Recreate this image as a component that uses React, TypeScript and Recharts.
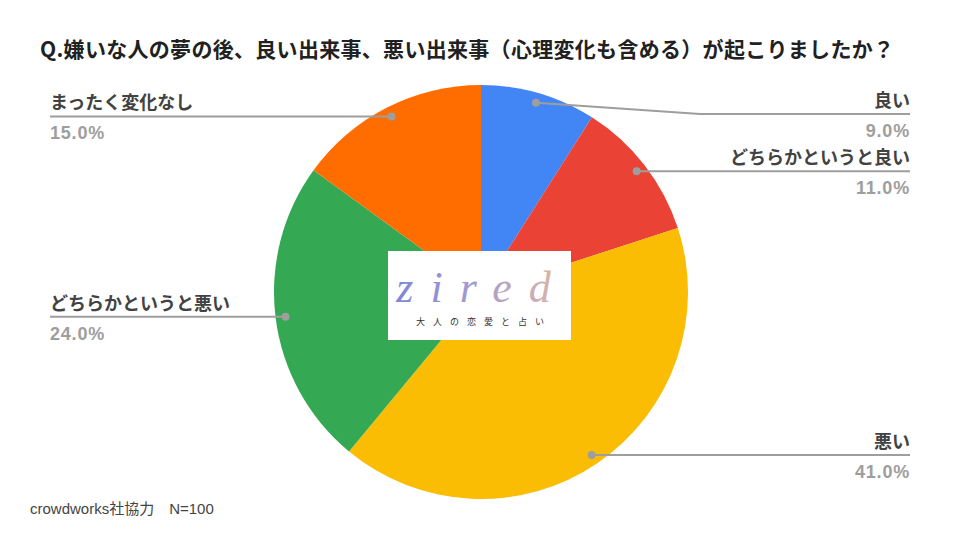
import React from 'react';
import { PieChart, Pie, Cell } from 'recharts';

const categories = ['良い', 'どちらかというと良い', '悪い', 'どちらかというと悪い', 'まったく変化なし'];
const shares = [9.0, 11.0, 41.0, 24.0, 15.0];
const colors = ['#4285F4', '#EA4335', '#FBBC04', '#34A853', '#FF6D01'];

const title = 'Q.嫌いな人の夢の後、良い出来事、悪い出来事（心理変化も含める）が起こりましたか？';
const footnote = 'crowdworks社協力　N=100';

const data = categories.map((name, i) => ({ name, value: shares[i] }));

const RAD = Math.PI / 180;
const JP_FONT = '"Noto Sans CJK JP", "Noto Sans", sans-serif';
const NUM_FONT = '"Liberation Sans", Arial, sans-serif';

if (typeof document !== 'undefined') {
  document.body.style.margin = '0';
}

const renderLabel = (props: any) => {
  const { cx, cy, midAngle, outerRadius, name, value } = props;
  const r = outerRadius - 10;
  const dx = Math.cos(-midAngle * RAD);
  const dy = Math.sin(-midAngle * RAD);
  const px = cx + r * dx;
  const py = cy + r * dy;
  const right = dx >= 0;
  const lineY = Math.max(py, cy - 178);
  const elbowX = right ? Math.max(px, cx + 219) : Math.min(px, cx - 220);
  const endX = right ? 910 : 50;
  const anchor = right ? 'end' : 'start';
  return (
    <g>
      <path
        d={`M${px},${py} L${elbowX},${lineY} L${endX},${lineY}`}
        stroke="#9e9e9e"
        strokeWidth={2}
        fill="none"
      />
      <circle cx={px} cy={py} r={4} fill="#9e9e9e" />
      <text x={endX} y={lineY - 7} textAnchor={anchor} fontFamily={JP_FONT} fontWeight={700} fontSize={18} fill="#424242">
        {name}
      </text>
      <text x={endX} y={lineY + 23} textAnchor={anchor} fontFamily={NUM_FONT} fontWeight={700} fontSize={18} fill="#9e9e9e" letterSpacing={0.8}>
        {value.toFixed(1)}%
      </text>
    </g>
  );
};

export default function App() {
  return (
    <div style={{ position: 'relative', width: 960, height: 540, background: '#fff', overflow: 'hidden' }}>
      <div
        style={{
          position: 'absolute',
          left: 40,
          top: 34,
          fontFamily: JP_FONT,
          fontWeight: 700,
          fontSize: 21,
          letterSpacing: 0.3,
          color: '#212121',
          whiteSpace: 'nowrap',
          lineHeight: '28px',
        }}
      >
        {title}
      </div>
      <PieChart
        width={960}
        height={540}
        margin={{ top: 0, right: 0, bottom: 0, left: 0 }}
        style={{ position: 'absolute', left: 0, top: 0 }}
      >
        <Pie
          data={data}
          dataKey="value"
          nameKey="name"
          cx={481}
          cy={292}
          outerRadius={207}
          startAngle={90}
          endAngle={-270}
          stroke="none"
          label={renderLabel}
          labelLine={false}
          isAnimationActive={false}
        >
          {data.map((d, i) => (
            <Cell key={d.name} fill={colors[i]} />
          ))}
        </Pie>
      </PieChart>
      <div
        style={{
          position: 'absolute',
          left: 388,
          top: 251,
          width: 183,
          height: 89,
          background: '#fff',
        }}
      >
        <svg width={183} height={89}>
          <defs>
            <linearGradient id="logoGrad" x1="0" y1="0" x2="1" y2="0">
              <stop offset="0%" stopColor="#7f86d8" />
              <stop offset="45%" stopColor="#a59ad0" />
              <stop offset="100%" stopColor="#e0b8a4" />
            </linearGradient>
          </defs>
          <text
            x={94}
            y={51}
            textAnchor="middle"
            fontFamily='"Liberation Serif", "DejaVu Serif", serif'
            fontStyle="italic"
            fontSize={44}
            letterSpacing={17}
            fill="url(#logoGrad)"
          >
            zired
          </text>
          <text
            x={96}
            y={74}
            textAnchor="middle"
            fontFamily={JP_FONT}
            fontSize={9}
            letterSpacing={8}
            fill="#333"
          >
            大人の恋愛と占い
          </text>
        </svg>
      </div>
      <div
        style={{
          position: 'absolute',
          left: 30,
          top: 497,
          fontFamily: '"Liberation Sans", "Noto Sans CJK JP", sans-serif',
          fontSize: 15,
          color: '#444',
          whiteSpace: 'nowrap',
        }}
      >
        {footnote}
      </div>
    </div>
  );
}
